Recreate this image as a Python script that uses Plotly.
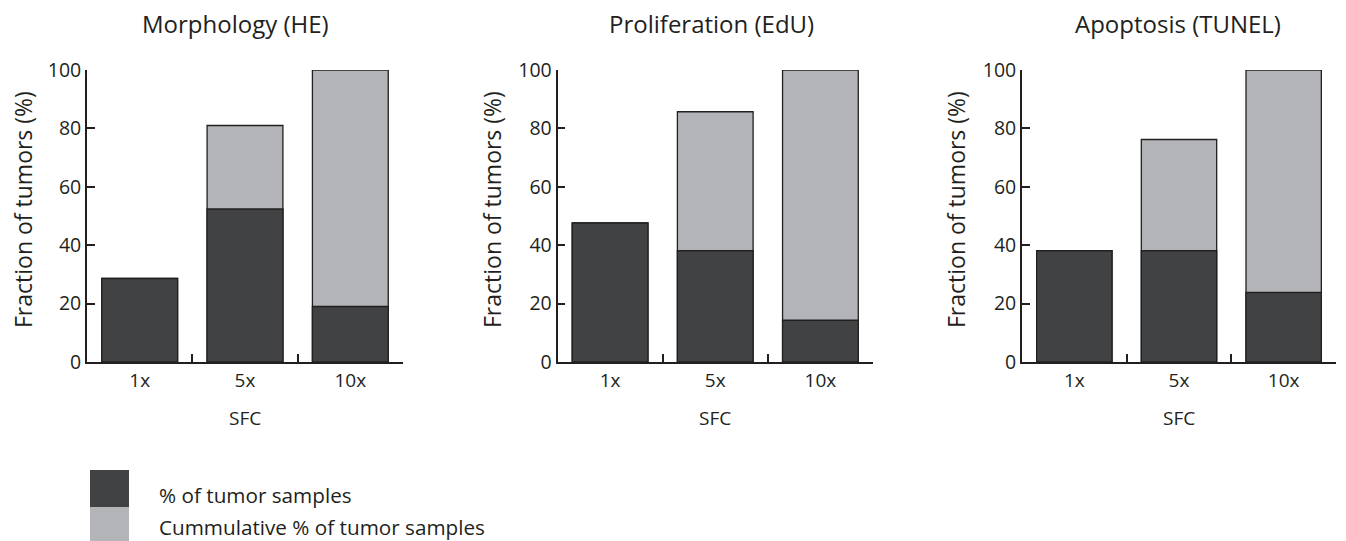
import plotly.graph_objects as go
from plotly.subplots import make_subplots

categories = ["1x", "5x", "10x"]
panel_titles = ["Morphology (HE)", "Proliferation (EdU)", "Apoptosis (TUNEL)"]
pct_morphology = [28.6, 52.4, 19.0]
cum_morphology = [28.6, 81.0, 100.0]
pct_proliferation = [47.6, 38.1, 14.3]
cum_proliferation = [47.6, 85.7, 100.0]
pct_apoptosis = [38.1, 38.1, 23.8]
cum_apoptosis = [38.1, 76.2, 100.0]
y_ticks = [0, 20, 40, 60, 80, 100]
legend_labels = ["% of tumor samples", "Cummulative % of tumor samples"]

DARK = "#414244"
LIGHT = "#b3b4b7"
EDGE = "#231f20"
TXT = "#231f20"
FONT = "Open Sans"
W, H = 1346, 541
OFF = 8  # page body margin


def px(x):
    return (x - OFF) / W


def py(y):
    return 1 - (y - OFF) / H


fig = make_subplots(rows=1, cols=3)
pcts = [pct_morphology, pct_proliferation, pct_apoptosis]
cums = [cum_morphology, cum_proliferation, cum_apoptosis]
for i in range(3):
    fig.add_trace(go.Bar(x=categories, y=cums[i], marker=dict(color=LIGHT, line=dict(color=EDGE, width=1.3)),
                         width=0.72, cliponaxis=False, showlegend=False, name=legend_labels[1]), row=1, col=i + 1)
    fig.add_trace(go.Bar(x=categories, y=pcts[i], marker=dict(color=DARK, line=dict(color=EDGE, width=1.3)),
                         width=0.72, cliponaxis=False, showlegend=False, name=legend_labels[0]), row=1, col=i + 1)

x_domains = [(87, 403), (557.5, 873), (1022, 1336)]
title_x = [235.5, 711, 1178]
ytitle_x = [23, 492, 956]

for i in range(3):
    xa = "xaxis" if i == 0 else f"xaxis{i+1}"
    ya = "yaxis" if i == 0 else f"yaxis{i+1}"
    fig.layout[xa].update(domain=[px(x_domains[i][0]), px(x_domains[i][1])], range=[-0.5, 2.5],
                          showline=True, linecolor=EDGE, linewidth=1.8, ticks="inside", ticklen=8,
                          tickwidth=1.8, tickcolor=EDGE, tickson="boundaries", showgrid=False,
                          tickfont=dict(family=FONT, size=19, color=TXT), automargin=False, fixedrange=True)
    fig.layout[ya].update(domain=[py(362), py(70)], range=[0, 100], tickvals=y_ticks,
                          showline=True, linecolor=EDGE, linewidth=1.8, ticks="inside", ticklen=8,
                          tickwidth=1.8, tickcolor=EDGE, showgrid=False, zeroline=False,
                          tickfont=dict(family=FONT, size=19.5, color=TXT), automargin=False, fixedrange=True)
    fig.add_annotation(text=panel_titles[i], x=px(title_x[i]), y=py(23), xref="paper", yref="paper",
                       showarrow=False, xanchor="center", yanchor="middle",
                       font=dict(family=FONT, size=24, color=TXT))
    fig.add_annotation(text="Fraction of tumors (%)", x=px(ytitle_x[i]), y=py(210), xref="paper", yref="paper",
                       showarrow=False, xanchor="center", yanchor="middle", textangle=-90,
                       font=dict(family=FONT, size=23, color=TXT))
    fig.add_annotation(text="SFC", x=px((x_domains[i][0] + x_domains[i][1]) / 2), y=py(418),
                       xref="paper", yref="paper", showarrow=False, xanchor="center", yanchor="middle",
                       font=dict(family=FONT, size=19, color=TXT))

# legend swatches and labels
fig.add_shape(type="rect", xref="paper", yref="paper", x0=px(90), x1=px(129), y0=py(507), y1=py(470),
              fillcolor=DARK, line=dict(width=0))
fig.add_shape(type="rect", xref="paper", yref="paper", x0=px(90), x1=px(129), y0=py(560), y1=py(507),
              fillcolor=LIGHT, line=dict(width=0))
fig.add_annotation(text=legend_labels[0], x=px(157), y=py(495), xref="paper", yref="paper", showarrow=False,
                   xanchor="left", yanchor="middle", font=dict(family=FONT, size=20.7, color=TXT))
fig.add_annotation(text=legend_labels[1], x=px(157), y=py(527), xref="paper", yref="paper", showarrow=False,
                   xanchor="left", yanchor="middle", font=dict(family=FONT, size=20.7, color=TXT))

fig.update_layout(width=W, height=H, margin=dict(l=0, r=0, t=0, b=0), barmode="overlay",
                  plot_bgcolor="white", paper_bgcolor="white", showlegend=False)
fig.write_html("out.html")
